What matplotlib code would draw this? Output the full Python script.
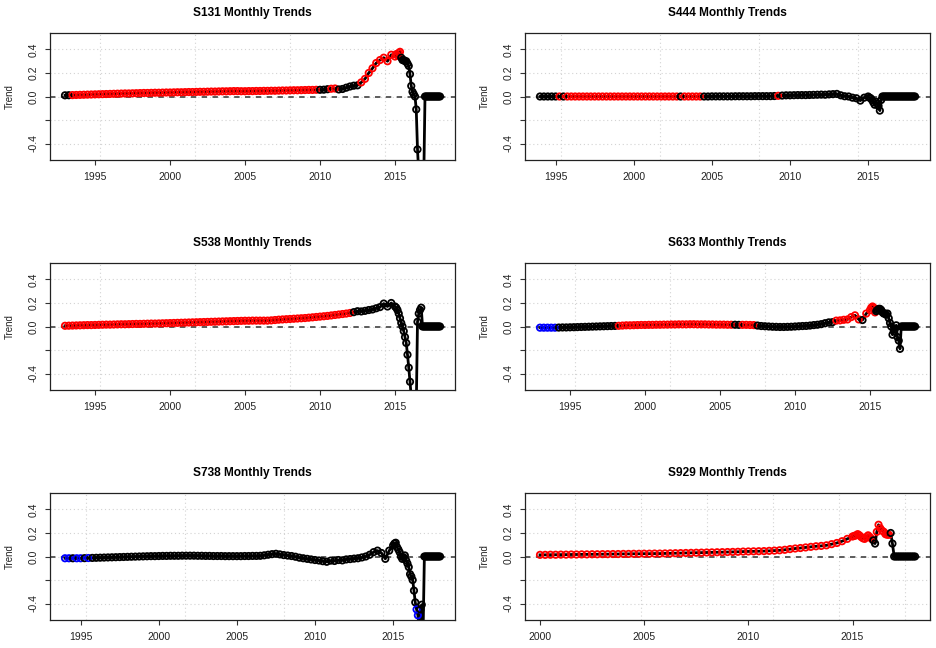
import numpy as np
import matplotlib
matplotlib.use("Agg")
import matplotlib.pyplot as plt

plt.rcParams['font.family'] = ['Liberation Sans', 'DejaVu Sans']

# station panels, left to right, top to bottom
stations = ['S131', 'S444', 'S538', 'S633', 'S738', 'S929']

# each series: quarterly values from its start year up to 2014.75,
# then monthly values from 2015.0 to 2018.0
s131_start = 1993.0
s131_q = [0.010, 0.011, 0.012, 0.013, 0.014, 0.015, 0.016, 0.017,
          0.018, 0.019, 0.020, 0.021, 0.022, 0.023, 0.024, 0.025,
          0.026, 0.026, 0.027, 0.028, 0.029, 0.030, 0.030, 0.031,
          0.032, 0.032, 0.033, 0.034, 0.034, 0.035, 0.036, 0.036,
          0.037, 0.038, 0.038, 0.039, 0.040, 0.040, 0.041, 0.042,
          0.042, 0.043, 0.044, 0.044, 0.045, 0.046, 0.046, 0.045,
          0.045, 0.046, 0.046, 0.047, 0.047, 0.048, 0.048, 0.049,
          0.049, 0.050, 0.051, 0.051, 0.052, 0.053, 0.053, 0.054,
          0.055, 0.056, 0.056, 0.057, 0.057, 0.058, 0.062, 0.066,
          0.068, 0.060, 0.064, 0.075, 0.085, 0.092, 0.095, 0.120,
          0.150, 0.200, 0.240, 0.285, 0.310, 0.330, 0.300, 0.355]
s131_m = [0.340, 0.360, 0.350, 0.370, 0.380, 0.330, 0.310, 0.310, 0.300, 0.300, 0.280, 0.260,
          0.190, 0.090, 0.040, 0.020, 0.000, -0.110, -0.450, -0.650, -0.750, -0.800, -0.750, -0.700,
          0.0, 0.0, 0.0, 0.0, 0.0, 0.0, 0.0, 0.0, 0.0, 0.0, 0.0, 0.0, 0.0]
s131_cols = [(1993.0, 'k'), (1993.4, 'r'), (2009.8, 'k'), (2010.6, 'r'),
             (2011.1, 'k'), (2012.7, 'r'), (2015.38, 'k')]

s444_start = 1994.0
s444_q = [0.0] * 44 + [
          0.001, 0.001, 0.001, 0.001, 0.001, 0.001, 0.002, 0.002,
          0.002, 0.002, 0.002, 0.003, 0.003, 0.003, 0.003, 0.003,
          0.004, 0.006, 0.008, 0.010, 0.010, 0.011, 0.012, 0.012,
          0.012, 0.013, 0.014, 0.015, 0.016, 0.015, 0.018, 0.020,
          0.022, 0.010, 0.002, 0.000, -0.010, -0.015, -0.035, -0.010]
s444_m = [0.000, -0.010, -0.015, -0.030, -0.050, -0.070, -0.045, -0.060, -0.080, -0.120, -0.030, 0.000,
          0.0, 0.0, 0.0, 0.0, 0.0, 0.0, 0.0, 0.0, 0.0, 0.0, 0.0, 0.0,
          0.0, 0.0, 0.0, 0.0, 0.0, 0.0, 0.0, 0.0, 0.0, 0.0, 0.0, 0.0, 0.0]
s444_cols = [(1994.0, 'k'), (1995.2, 'r'), (1995.4, 'k'), (1995.7, 'r'),
             (2002.8, 'k'), (2003.1, 'r'), (2004.4, 'k'), (2009.1, 'r'), (2009.3, 'k')]

s538_start = 1993.0
s538_q = [0.006, 0.007, 0.008, 0.009, 0.010, 0.011, 0.012, 0.012,
          0.013, 0.014, 0.015, 0.016, 0.016, 0.017, 0.018, 0.019,
          0.019, 0.020, 0.021, 0.022, 0.022, 0.023, 0.024, 0.025,
          0.025, 0.026, 0.027, 0.028, 0.029, 0.030, 0.031, 0.032,
          0.033, 0.034, 0.035, 0.036, 0.037, 0.038, 0.039, 0.040,
          0.041, 0.042, 0.043, 0.044, 0.045, 0.046, 0.047, 0.048,
          0.049, 0.049, 0.050, 0.050, 0.050, 0.050, 0.050, 0.052,
          0.055, 0.058, 0.060, 0.062, 0.064, 0.066, 0.068, 0.070,
          0.072, 0.075, 0.078, 0.081, 0.084, 0.087, 0.090, 0.094,
          0.098, 0.102, 0.106, 0.110, 0.115, 0.122, 0.130, 0.128,
          0.133, 0.140, 0.145, 0.155, 0.165, 0.195, 0.170, 0.200]
s538_m = [0.170, 0.160, 0.140, 0.110, 0.070, 0.030, 0.000, -0.040, -0.090, -0.140, -0.240, -0.350,
          -0.470, -0.600, -0.750, -0.800, -0.750, -0.700, 0.040, 0.110, 0.140, 0.160, 0.000, 0.000,
          0.0, 0.0, 0.0, 0.0, 0.0, 0.0, 0.0, 0.0, 0.0, 0.0, 0.0, 0.0, 0.0]
s538_cols = [(1993.0, 'r'), (2012.2, 'k')]

s633_start = 1993.0
s633_q = [-0.010, -0.010, -0.010, -0.010, -0.010, -0.009, -0.008, -0.008,
          -0.007, -0.006, -0.005, -0.004, -0.003, -0.002, -0.001, 0.000,
          0.001, 0.002, 0.003, 0.004, 0.005, 0.006, 0.008, 0.010,
          0.010, 0.011, 0.012, 0.013, 0.013, 0.014, 0.014, 0.015,
          0.015, 0.016, 0.016, 0.017, 0.017, 0.018, 0.018, 0.018,
          0.019, 0.019, 0.018, 0.018, 0.018, 0.017, 0.017, 0.016,
          0.016, 0.016, 0.015, 0.015, 0.015, 0.014, 0.014, 0.014,
          0.013, 0.012, 0.008, 0.004, 0.002, 0.000, -0.002, -0.003,
          -0.004, -0.004, -0.003, -0.002, 0.000, 0.002, 0.004, 0.005,
          0.008, 0.012, 0.015, 0.020, 0.028, 0.035, 0.037, 0.050,
          0.052, 0.057, 0.060, 0.080, 0.095, 0.060, 0.055, 0.110]
s633_m = [0.140, 0.160, 0.170, 0.160, 0.120, 0.130, 0.140, 0.150, 0.150, 0.140, 0.120, 0.110,
          0.110, 0.100, 0.110, 0.070, 0.030, 0.000, -0.070, -0.040, -0.020, 0.010, -0.090, -0.120,
          -0.190, 0.0, 0.0, 0.0, 0.0, 0.0, 0.0, 0.0, 0.0, 0.0, 0.0, 0.0, 0.0]
s633_cols = [(1993.0, 'b'), (1994.2, 'k'), (1998.2, 'r'), (2006.0, 'k'), (2006.45, 'r'),
             (2007.35, 'k'), (2012.65, 'r'), (2014.4, 'k'), (2014.7, 'r'), (2015.35, 'k')]

s738_start = 1994.0
s738_q = [-0.015, -0.015, -0.015, -0.015, -0.015, -0.014, -0.013, -0.012,
          -0.011, -0.010, -0.009, -0.008, -0.007, -0.006, -0.005, -0.004,
          -0.003, -0.002, -0.001, 0.000, 0.001, 0.002, 0.003, 0.003,
          0.004, 0.005, 0.005, 0.006, 0.006, 0.006, 0.007, 0.007,
          0.007, 0.007, 0.006, 0.006, 0.005, 0.005, 0.004, 0.004,
          0.004, 0.003, 0.003, 0.003, 0.003, 0.003, 0.004, 0.004,
          0.005, 0.005, 0.006, 0.010, 0.015, 0.020, 0.023, 0.018,
          0.012, 0.008, 0.004, -0.002, -0.010, -0.015, -0.020, -0.025,
          -0.030, -0.034, -0.040, -0.045, -0.035, -0.038, -0.030, -0.033,
          -0.025, -0.022, -0.018, -0.015, -0.008, 0.000, 0.015, 0.037,
          0.050, 0.030, -0.020, 0.050]
s738_m = [0.094, 0.110, 0.117, 0.080, 0.060, 0.037, 0.000, -0.020, -0.006, 0.009, -0.034, -0.060,
          -0.090, -0.150, -0.170, -0.200, -0.290, -0.390, -0.450, -0.500, -0.600, -0.450, -0.410, -0.650,
          0.0, 0.0, 0.0, 0.0, 0.0, 0.0, 0.0, 0.0, 0.0, 0.0, 0.0, 0.0, 0.0]
s738_cols = [(1994.0, 'b'), (1994.4, 'k'), (1994.6, 'b'), (1995.1, 'k'), (1995.4, 'b'),
             (1995.6, 'k'), (2016.45, 'b'), (2016.62, 'k')]

s929_start = 2000.0
s929_q = [0.014, 0.014, 0.015, 0.015, 0.016, 0.016, 0.017, 0.017,
          0.018, 0.018, 0.019, 0.019, 0.020, 0.020, 0.021, 0.021,
          0.022, 0.022, 0.023, 0.023, 0.024, 0.024, 0.025, 0.025,
          0.026, 0.027, 0.028, 0.029, 0.030, 0.031, 0.032, 0.033,
          0.034, 0.035, 0.036, 0.037, 0.038, 0.039, 0.040, 0.042,
          0.043, 0.044, 0.045, 0.046, 0.048, 0.050, 0.053, 0.057,
          0.063, 0.068, 0.072, 0.077, 0.082, 0.087, 0.090, 0.095,
          0.105, 0.115, 0.130, 0.150]
s929_m = [0.170, 0.175, 0.180, 0.190, 0.180, 0.166, 0.155, 0.150, 0.165, 0.180, 0.165, 0.150,
          0.137, 0.110, 0.210, 0.270, 0.240, 0.220, 0.210, 0.190, 0.185, 0.185, 0.200, 0.110,
          0.0, 0.0, 0.0, 0.0, 0.0, 0.0, 0.0, 0.0, 0.0, 0.0, 0.0, 0.0, 0.0]
s929_cols = [(2000.0, 'r'), (2015.95, 'k'), (2016.15, 'r'), (2016.8, 'k')]

starts = [s131_start, s444_start, s538_start, s633_start, s738_start, s929_start]
quarterly = [s131_q, s444_q, s538_q, s633_q, s738_q, s929_q]
monthly = [s131_m, s444_m, s538_m, s633_m, s738_m, s929_m]
colour_runs = [s131_cols, s444_cols, s538_cols, s633_cols, s738_cols, s929_cols]

year_ticks = [[1995, 2000, 2005, 2010, 2015]] * 5 + [[2000, 2005, 2010, 2015]]
# R's grid() on a POSIXct axis: pretty steps in seconds
grid_step = [2e8, 2e8, 2e8, 2e8, 2e8, 1e8]

colour_map = {'r': '#ff0000', 'k': '#000000', 'b': '#0000ff'}
SEC_YEAR = 31557600.0


def build_series(start, q_vals, m_vals):
    xq = start + 0.25 * np.arange(len(q_vals))
    xm = 2015.0 + np.arange(len(m_vals)) / 12.0
    return np.concatenate([xq, xm]), np.array(q_vals + m_vals)


def point_colours(x, runs):
    out = []
    for xv in x:
        c = runs[0][1]
        for yr, cc in runs:
            if xv >= yr - 1e-6:
                c = cc
        out.append(colour_map[c])
    return out


fig = plt.figure(figsize=(9.37, 6.48), dpi=100)

W, H = 937.0, 648.0
lefts = [50, 525]
tops = [33, 263, 493]
box_w, box_h = 405, 127

for i, name in enumerate(stations):
    col, row = i % 2, i // 2
    ax = fig.add_axes([lefts[col] / W, 1 - (tops[row] + box_h) / H, box_w / W, box_h / H])

    x, y = build_series(starts[i], quarterly[i], monthly[i])
    pad = 0.04 * (x.max() - x.min())
    x0, x1 = x.min() - pad, x.max() + pad

    # dotted grid
    s0, s1 = (x0 - 1970) * SEC_YEAR, (x1 - 1970) * SEC_YEAR
    k = np.arange(np.ceil(s0 / grid_step[i]), np.floor(s1 / grid_step[i]) + 1) * grid_step[i]
    for gx in 1970 + k / SEC_YEAR:
        ax.axvline(gx, color='#d3d3d3', lw=0.8, ls=(0, (1, 2.5)), zorder=0)
    for gy in [-0.4, -0.2, 0.0, 0.2, 0.4]:
        ax.axhline(gy, color='#d3d3d3', lw=0.8, ls=(0, (1, 2.5)), zorder=0)

    ax.axhline(0, color='#505050', lw=1.3, ls=(0, (3, 3)), zorder=1)

    ax.plot(x, y, color='black', lw=2.0, zorder=2)
    ax.scatter(x, y, s=21, facecolors='none', edgecolors=point_colours(x, colour_runs[i]),
               linewidths=1.3, zorder=3)

    ax.set_xlim(x0, x1)
    ax.set_ylim(-0.54, 0.54)
    ax.set_xticks(year_ticks[i])
    ax.set_xticklabels([str(t) for t in year_ticks[i]])
    ax.set_yticks([-0.4, -0.2, 0.0, 0.2, 0.4])
    ax.set_yticklabels(['-0.4', '', '0.0', '0.2', '0.4'])
    ax.tick_params(axis='both', direction='out', length=3.5, width=0.8,
                   labelsize=7.5, color='#333333', labelcolor='#222222')
    ax.tick_params(axis='x', pad=5)
    ax.tick_params(axis='y', pad=5)
    for lab in ax.get_yticklabels():
        lab.set_rotation(90)
        lab.set_va('center')
    for sp in ax.spines.values():
        sp.set_linewidth(0.9)
        sp.set_color('#222222')

    ax.set_title(name + ' Monthly Trends', fontsize=8.6, fontweight='bold', pad=12)
    ax.set_ylabel('Trend', fontsize=7, color='#222222')
    ax.yaxis.set_label_coords(-0.088, 0.5)

fig.savefig('out.png', dpi=100)
